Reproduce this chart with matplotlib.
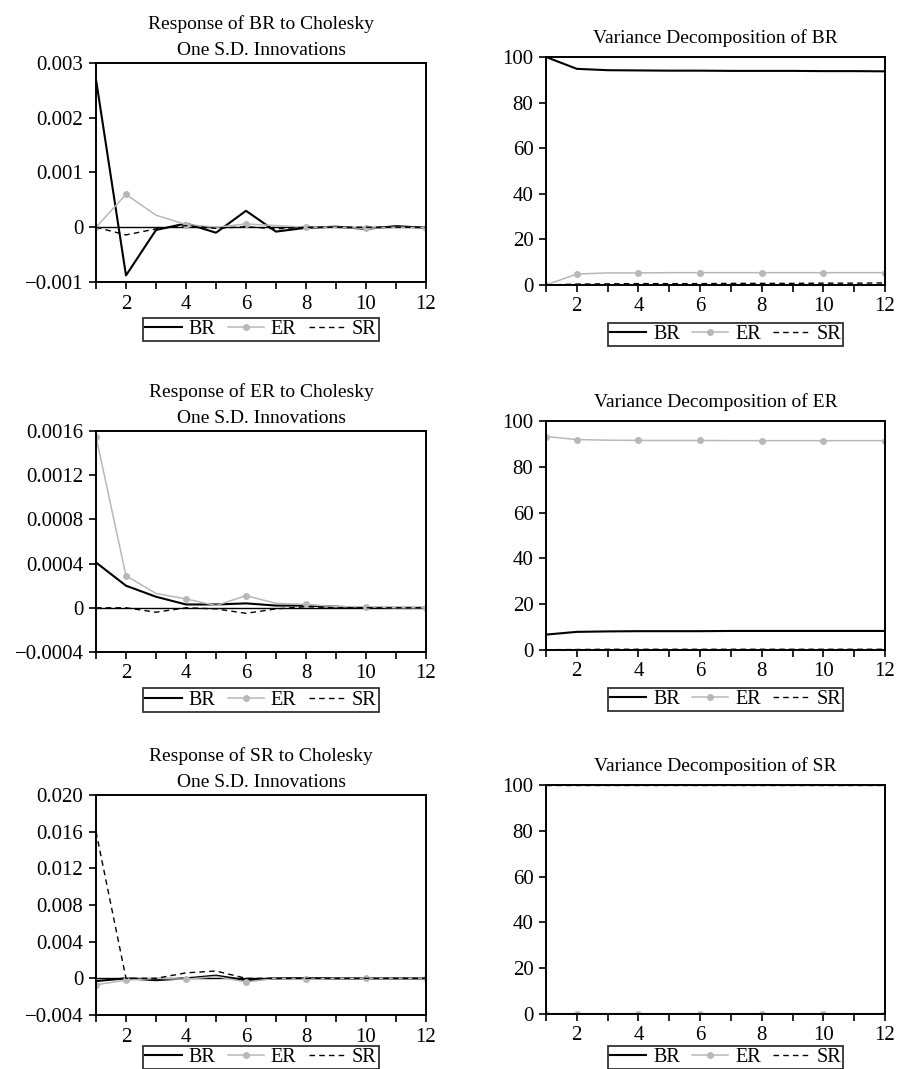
import matplotlib
matplotlib.use('Agg')
import matplotlib.pyplot as plt

plt.rcParams['font.family'] = ['Liberation Serif', 'DejaVu Serif']

periods = list(range(1, 13))

# Impulse responses: Response of BR
irf_br_br = [0.0027, -0.00088, -0.00005, 0.00007, -0.0001, 0.0003, -0.00008, -0.00001, 0.00001, -0.00003, 0.00002, -0.00001]
irf_br_er = [0.0, 0.0006, 0.00022, 0.00005, 0.0, 0.00006, 0.00003, 0.0, 0.0, -0.00002, 0.0, -0.00001]
irf_br_sr = [0.0, -0.00014, -0.00003, 0.00003, -0.00002, 0.00001, -0.00003, 0.0, 0.0, 0.0, 0.0, 0.0]

# Response of ER
irf_er_br = [0.00041, 0.0002, 0.0001, 0.00003, 0.00003, 0.00004, 0.00002, 0.00002, 0.00001, 0.0, 0.0, 0.0]
irf_er_er = [0.00155, 0.00029, 0.00013, 0.00008, 0.00002, 0.00011, 0.00004, 0.00003, 0.00001, 0.00001, 0.0, 0.0]
irf_er_sr = [0.0, 0.0, -0.00004, 0.0, -0.00001, -0.00005, -0.00001, 0.00001, 0.0, 0.0, 0.0, 0.0]

# Response of SR
irf_sr_br = [-0.0003, 0.0, -0.0002, 0.0, 0.0003, -0.0002, 0.0, 0.0, 0.0, 0.0, 0.0, 0.0]
irf_sr_er = [-0.0007, -0.0002, 0.0, -0.0001, 0.0002, -0.0004, 0.0, -0.0001, 0.0, 0.0, 0.0, 0.0]
irf_sr_sr = [0.016, 0.0, 0.0, 0.0006, 0.0008, 0.0, 0.0, 0.0, 0.0, 0.0, 0.0, 0.0]

# Variance decompositions
vd_br_br = [100, 94.8, 94.2, 94.1, 94.0, 94.0, 93.9, 93.9, 93.9, 93.8, 93.8, 93.7]
vd_br_er = [0, 4.8, 5.3, 5.3, 5.4, 5.4, 5.4, 5.4, 5.4, 5.4, 5.4, 5.4]
vd_br_sr = [0, 0.4, 0.5, 0.6, 0.6, 0.6, 0.7, 0.7, 0.7, 0.8, 0.8, 0.9]

vd_er_br = [6.7, 7.9, 8.1, 8.2, 8.2, 8.2, 8.3, 8.3, 8.3, 8.3, 8.3, 8.3]
vd_er_er = [93.2, 91.9, 91.6, 91.5, 91.5, 91.5, 91.4, 91.4, 91.4, 91.4, 91.4, 91.4]
vd_er_sr = [0.1, 0.2, 0.3, 0.3, 0.3, 0.3, 0.3, 0.3, 0.3, 0.3, 0.3, 0.3]

vd_sr_br = [0.1, 0.1, 0.1, 0.1, 0.1, 0.1, 0.1, 0.1, 0.1, 0.1, 0.1, 0.1]
vd_sr_er = [0.1, 0.1, 0.1, 0.1, 0.1, 0.1, 0.1, 0.1, 0.1, 0.1, 0.1, 0.1]
vd_sr_sr = [99.8, 99.8, 99.8, 99.8, 99.8, 99.8, 99.8, 99.8, 99.8, 99.8, 99.8, 99.8]

irf_titles = ['Response of BR to Cholesky\nOne S.D. Innovations',
              'Response of ER to Cholesky\nOne S.D. Innovations',
              'Response of SR to Cholesky\nOne S.D. Innovations']
vd_titles = ['Variance Decomposition of BR',
             'Variance Decomposition of ER',
             'Variance Decomposition of SR']

irf_yticks = [[-0.001, 0, 0.001, 0.002, 0.003],
              [-0.0004, 0, 0.0004, 0.0008, 0.0012, 0.0016],
              [-0.004, 0, 0.004, 0.008, 0.012, 0.016, 0.020]]
irf_ylabels = [['\u22120.001', '0', '0.001', '0.002', '0.003'],
               ['\u22120.0004', '0', '0.0004', '0.0008', '0.0012', '0.0016'],
               ['\u22120.004', '0', '0.004', '0.008', '0.012', '0.016', '0.020']]
vd_yticks = [0, 20, 40, 60, 80, 100]

irf_data = [(irf_br_br, irf_br_er, irf_br_sr),
            (irf_er_br, irf_er_er, irf_er_sr),
            (irf_sr_br, irf_sr_er, irf_sr_sr)]
vd_data = [(vd_br_br, vd_br_er, vd_br_sr),
           (vd_er_br, vd_er_er, vd_er_sr),
           (vd_sr_br, vd_sr_er, vd_sr_sr)]

fig = plt.figure(figsize=(8.98, 10.69), dpi=100)

# axes rectangles [left, bottom, width, height]
left_rects = [[0.1069, 0.7362, 0.3675, 0.2049],
              [0.1069, 0.3901, 0.3675, 0.2067],
              [0.1069, 0.0505, 0.3675, 0.2058]]
right_rects = [[0.608, 0.7334, 0.3775, 0.2133],
               [0.608, 0.3920, 0.3775, 0.2142],
               [0.608, 0.0515, 0.3775, 0.2142]]
legend_y = [-0.165, -0.165, -0.14]

gray = '#b8b8b8'
marker_idx = [0, 1, 3, 5, 7, 9, 11]


def style_axes(ax):
    for sp in ax.spines.values():
        sp.set_linewidth(1.4)
        sp.set_color('black')
    ax.set_xlim(1, 12)
    ax.set_xticks(periods)
    ax.set_xticklabels([str(p) if p % 2 == 0 else '' for p in periods])
    ax.tick_params(direction='out', length=5, width=1.2, labelsize=15, pad=4)


def draw(ax, series, title, legend_x, legend_yy, title_pad):
    br, er, sr = series
    ax.plot(periods, br, color='black', lw=1.5, label='BR')
    ax.plot(periods, er, color=gray, lw=1.1, marker='o', ms=4,
            markevery=marker_idx, label='ER')
    ax.plot(periods, sr, color='black', lw=1.0, ls=(0, (4, 3)), label='SR')
    ax.set_title(title, fontsize=14, pad=title_pad, linespacing=1.7)
    leg = ax.legend(loc='upper center', bbox_to_anchor=(legend_x, legend_yy), ncol=3,
                    frameon=True, fancybox=False, fontsize=14.5, handlelength=1.8,
                    handletextpad=0.35, columnspacing=0.6, borderpad=0.1,
                    borderaxespad=0)
    leg.get_frame().set_edgecolor('black')
    leg.get_frame().set_linewidth(1.3)


for i in range(3):
    ax = fig.add_axes(left_rects[i])
    ax.axhline(0, color='black', lw=1.0, zorder=1)
    draw(ax, irf_data[i], irf_titles[i], 0.5, legend_y[i], 6)
    style_axes(ax)
    ax.set_ylim(irf_yticks[i][0], irf_yticks[i][-1])
    ax.set_yticks(irf_yticks[i])
    ax.set_yticklabels(irf_ylabels[i])

    ax = fig.add_axes(right_rects[i])
    draw(ax, vd_data[i], vd_titles[i], 0.53, legend_y[i], 10)
    style_axes(ax)
    ax.set_ylim(0, 100)
    ax.set_yticks(vd_yticks)
    ax.set_yticklabels([str(v) for v in vd_yticks])

plt.savefig('out.png', dpi=100)
